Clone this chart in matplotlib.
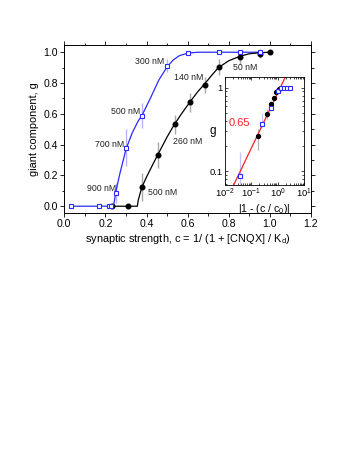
import matplotlib
matplotlib.use("Agg")
import matplotlib.pyplot as plt
from matplotlib.ticker import MultipleLocator, FixedLocator, NullFormatter, LogLocator
import numpy as np

plt.rcParams['font.family'] = ['Liberation Sans', 'DejaVu Sans']
plt.rcParams['mathtext.fontset'] = 'custom'
plt.rcParams['mathtext.rm'] = 'Liberation Sans'
plt.rcParams['mathtext.it'] = 'Liberation Sans:italic'

# ---- main panel data ----
blue_c = [0.031, 0.169, 0.216, 0.226, 0.25, 0.30, 0.378, 0.50, 0.60, 0.752, 0.857, 0.95]
blue_g = [0.0, 0.0, 0.0, 0.0, 0.088, 0.38, 0.588, 0.913, 0.997, 1.0, 1.0, 1.0]
blue_err = [0, 0, 0, 0, 0.065, 0.12, 0.08, 0.04, 0.01, 0, 0, 0]

black_c = [0.234, 0.308, 0.378, 0.456, 0.537, 0.613, 0.683, 0.752, 0.857, 0.95, 1.0]
black_g = [0.0, 0.0, 0.123, 0.335, 0.532, 0.675, 0.788, 0.903, 0.97, 0.99, 1.0]
black_err = [0, 0, 0.09, 0.085, 0.06, 0.06, 0.05, 0.05, 0.045, 0.03, 0]

blue_fit_c = [0.03, 0.24, 0.243, 0.25, 0.27, 0.30, 0.33, 0.36, 0.378, 0.42, 0.46, 0.50, 0.53, 0.56, 0.60, 0.65, 0.95]
blue_fit_g = [0.0, 0.0, 0.03, 0.09, 0.21, 0.37, 0.475, 0.555, 0.59, 0.705, 0.82, 0.905, 0.95, 0.978, 0.994, 1.0, 1.0]

black_fit_c = [0.23, 0.355, 0.36, 0.37, 0.378, 0.40, 0.43, 0.455, 0.50, 0.535, 0.57, 0.61, 0.65, 0.68, 0.72, 0.75, 0.80, 0.857, 0.90, 0.95, 1.0]
black_fit_g = [0.0, 0.0, 0.04, 0.09, 0.125, 0.19, 0.27, 0.335, 0.45, 0.53, 0.60, 0.675, 0.745, 0.79, 0.855, 0.90, 0.945, 0.975, 0.99, 0.997, 1.0]

labels_text = ["300 nM", "140 nM", "50 nM", "500 nM", "700 nM", "900 nM", "260 nM", "500 nM"]
labels_x = [0.344, 0.534, 0.82, 0.227, 0.149, 0.11, 0.529, 0.407]
labels_y = [0.937, 0.833, 0.898, 0.612, 0.404, 0.112, 0.418, 0.086]

# ---- inset data ----
ins_blue_x = [0.038, 0.25, 0.56, 1.07, 1.31, 1.75, 2.34, 3.04]
ins_blue_g = [0.088, 0.37, 0.575, 0.91, 1.0, 1.0, 1.0, 1.0]
ins_blue_lo = [0.068, 0.34, 0.53, 0.88, 1.0, 1.0, 1.0, 1.0]
ins_blue_hi = [0.17, 0.49, 0.63, 0.95, 1.0, 1.0, 1.0, 1.0]
ins_black_x = [0.18, 0.40, 0.57, 0.75, 0.89, 1.12]
ins_black_g = [0.26, 0.48, 0.63, 0.75, 0.89, 0.97]
ins_black_lo = [0.18, 0.42, 0.57, 0.70, 0.85, 0.94]
ins_black_hi = [0.32, 0.55, 0.69, 0.80, 0.93, 1.0]
red_x = [0.0214, 2.42]
red_y = [0.068, 1.54]

W, H = 349, 451
fig = plt.figure(figsize=(W / 100, H / 100), dpi=100)

ax = fig.add_axes([64.3 / W, 1 - 213 / H, (311 - 64.3) / W, (213 - 45) / H])
fs = 7.6

ax.errorbar(blue_c, blue_g, yerr=blue_err, fmt='none', ecolor='#b4b4ff', elinewidth=1.0, capsize=0, zorder=1)
ax.errorbar(black_c, black_g, yerr=black_err, fmt='none', ecolor='#a8a8a8', elinewidth=1.0, capsize=0, zorder=1)
ax.plot(blue_fit_c, blue_fit_g, color='#2a2aff', lw=0.9, zorder=2)
ax.plot(black_fit_c, black_fit_g, color='black', lw=0.9, zorder=2)
ax.plot(black_c, black_g, 'o', color='black', ms=3.3, zorder=3)
ax.plot(blue_c, blue_g, 's', mfc='white', mec='#2a2aff', mew=0.8, ms=3.0, zorder=4)

for t, x, y in zip(labels_text, labels_x, labels_y):
    ax.text(x, y, t, fontsize=6.3, ha='left', va='center', color='#222222')

ax.set_xlim(0, 1.2)
ax.set_ylim(-0.044, 1.047)
ax.xaxis.set_major_locator(MultipleLocator(0.2))
ax.xaxis.set_minor_locator(MultipleLocator(0.1))
ax.yaxis.set_major_locator(MultipleLocator(0.2))
ax.yaxis.set_minor_locator(MultipleLocator(0.1))
ax.xaxis.set_major_formatter(matplotlib.ticker.FormatStrFormatter('%.1f'))
ax.yaxis.set_major_formatter(matplotlib.ticker.FormatStrFormatter('%.1f'))
ax.tick_params(which='both', direction='out', top=True, right=True, labelsize=fs, width=0.6, pad=1.5)
ax.tick_params(which='major', length=3)
ax.tick_params(which='minor', length=1.8)
for s in ax.spines.values():
    s.set_linewidth(0.7)
ax.set_xlabel(r'synaptic strength, c = 1/ (1 + [CNQX] / K$_\mathrm{d}$)', fontsize=7.9, labelpad=2)
ax.set_ylabel('giant component, g', fontsize=7.9, labelpad=3)

# ---- inset ----
ai = fig.add_axes([225 / W, 1 - 185 / H, (304 - 225) / W, (185 - 77) / H])
ai.set_xscale('log')
ai.set_yscale('log')
ai.plot(red_x, red_y, color='#ff2020', lw=0.9, zorder=2)
bl = np.array(ins_black_g)
ai.errorbar(ins_black_x, ins_black_g,
            yerr=[bl - np.array(ins_black_lo), np.array(ins_black_hi) - bl],
            fmt='none', ecolor='#b0b0b0', elinewidth=0.9, capsize=0, zorder=1)
bb = np.array(ins_blue_g)
ai.errorbar(ins_blue_x, ins_blue_g,
            yerr=[bb - np.array(ins_blue_lo), np.array(ins_blue_hi) - bb],
            fmt='none', ecolor='#c4c4ff', elinewidth=0.9, capsize=0, zorder=1)
ai.plot(ins_black_x, ins_black_g, 'o', color='black', ms=2.8, zorder=3)
ai.plot(ins_blue_x, ins_blue_g, 's', mfc='white', mec='#2a2aff', mew=0.8, ms=2.8, zorder=4)
ai.set_xlim(1e-2, 1e1)
ai.set_ylim(0.068, 1.34)
ai.xaxis.set_major_locator(FixedLocator([1e-2, 1e-1, 1e0, 1e1]))
ai.xaxis.set_major_formatter(matplotlib.ticker.FixedFormatter(
    [r'10$^{-2}$', r'10$^{-1}$', r'10$^{0}$', r'10$^{1}$']))
ai.xaxis.set_minor_locator(LogLocator(base=10, subs=np.arange(2, 10)))
ai.xaxis.set_minor_formatter(NullFormatter())
ai.yaxis.set_major_locator(FixedLocator([0.1, 1.0]))
ai.yaxis.set_major_formatter(matplotlib.ticker.FixedFormatter(['0.1', '1']))
ai.yaxis.set_minor_locator(LogLocator(base=10, subs=np.arange(2, 10)))
ai.yaxis.set_minor_formatter(NullFormatter())
ai.tick_params(which='both', direction='in', top=True, right=True, labelsize=6.8, width=0.5, pad=1.5)
ai.tick_params(which='major', length=2.5)
ai.tick_params(which='minor', length=1.3)
for s in ai.spines.values():
    s.set_linewidth(0.6)
ai.set_xlabel(r'|1 - (c / c$_0$)|', fontsize=7.6, labelpad=1)
ai.set_ylabel('g', fontsize=8.5, rotation=0, va='center', ha='center')
ai.yaxis.set_label_coords(-0.15, 0.5)
ai.text(0.0135, 0.38, '0.65', color='#ff2020', fontsize=8, ha='left', va='center')

fig.savefig('out.png', dpi=100)
